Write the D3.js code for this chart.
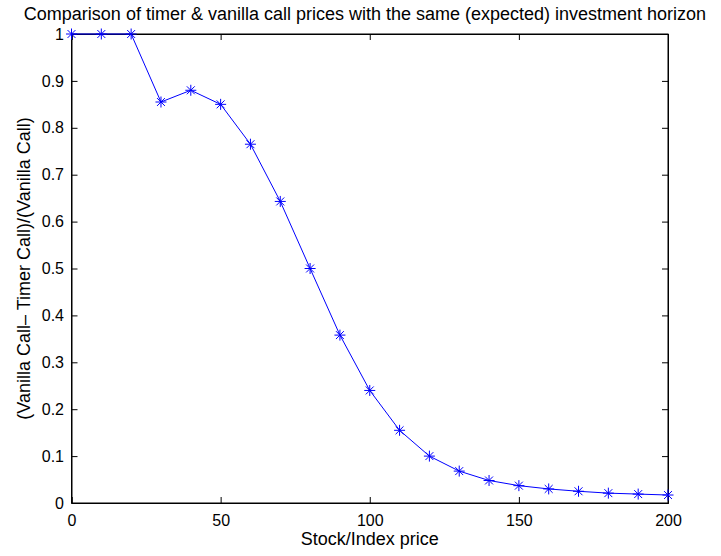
<!DOCTYPE html>
<html><head><meta charset="utf-8">
<script src="https://cdn.jsdelivr.net/npm/d3@7"></script>
<style>body{margin:0;background:#fff}svg{display:block}text{font-family:"Liberation Sans",Arial,sans-serif;fill:#000}</style>
</head><body><svg id="c" width="721" height="556"></svg>
<script>
const xValues = [0,10,20,30,40,50,60,70,80,90,100,110,120,130,140,150,160,170,180,190,200];
const yValues = [1,1,1,0.855,0.88,0.85,0.765,0.643,0.5,0.358,0.24,0.155,0.1,0.068,0.048,0.037,0.03,0.025,0.021,0.019,0.017];
const xTicks = [0,50,100,150,200];
const yTicks = [0,0.1,0.2,0.3,0.4,0.5,0.6,0.7,0.8,0.9,1];
const titleText = "Comparison of timer & vanilla call prices with the same (expected) investment horizon";
const xLabel = "Stock/Index price";
const yLabel = "(Vanilla Call\u2013 Timer Call)/(Vanilla Call)";

const L=71.5,R=668,T=34,B=503;
const svg=d3.select("#c");
const x=d3.scaleLinear().domain([0,200]).range([L,R]);
const y=d3.scaleLinear().domain([0,1]).range([B,T]);
const fs=16, fl=18;
const tl=6;

svg.append("rect").attr("x",L).attr("y",T).attr("width",R-L).attr("height",B-T)
  .attr("fill","none").attr("stroke","#000").attr("stroke-width",1);

const gxB=svg.append("g").attr("transform",`translate(0,${B})`)
  .call(d3.axisBottom(x).tickValues(xTicks).tickSize(-tl).tickPadding(11.5).tickFormat(d3.format("d")));
const gxT=svg.append("g").attr("transform",`translate(0,${T})`)
  .call(d3.axisTop(x).tickValues(xTicks).tickSize(-tl).tickFormat(""));
const gyL=svg.append("g").attr("transform",`translate(${L},0)`)
  .call(d3.axisLeft(y).tickValues(yTicks).tickSize(-tl).tickPadding(7.5).tickFormat(d=>d===0?"0":d===1?"1":d3.format(".1f")(d)));
const gyR=svg.append("g").attr("transform",`translate(${R},0)`)
  .call(d3.axisRight(y).tickValues(yTicks).tickSize(-tl).tickFormat(""));
[gxB,gxT,gyL,gyR].forEach(g=>{
  g.select(".domain").attr("stroke","#000");
  g.selectAll(".tick line").attr("stroke","#000");
  g.selectAll("text").attr("font-size",fs).attr("font-family","Liberation Sans, Arial, sans-serif").attr("fill","#000");
});

const data=xValues.map((v,i)=>[v,yValues[i]]);
svg.append("path").datum(data).attr("fill","none").attr("stroke","#0000ff").attr("stroke-width",1)
  .attr("d",d3.line().x(d=>x(d[0])).y(d=>y(d[1])));

const r=5.5, rd=r*0.72;
const mk=svg.append("g").attr("stroke","#0000ff").attr("stroke-width",1).attr("fill","none");
data.forEach(d=>{
  const cx=x(d[0]),cy=y(d[1]);
  mk.append("path").attr("d",`M${cx-r},${cy}H${cx+r}M${cx},${cy-r}V${cy+r}M${cx-rd},${cy-rd}L${cx+rd},${cy+rd}M${cx-rd},${cy+rd}L${cx+rd},${cy-rd}`);
});

svg.append("text").attr("x",365).attr("y",20).attr("text-anchor","middle").attr("font-size",fl).text(titleText);
svg.append("text").attr("x",(L+R)/2).attr("y",545).attr("text-anchor","middle").attr("font-size",fl).text(xLabel);
svg.append("text").attr("transform",`translate(30,${(T+B)/2}) rotate(-90)`).attr("text-anchor","middle").attr("font-size",fl).text(yLabel);
</script></body></html>
